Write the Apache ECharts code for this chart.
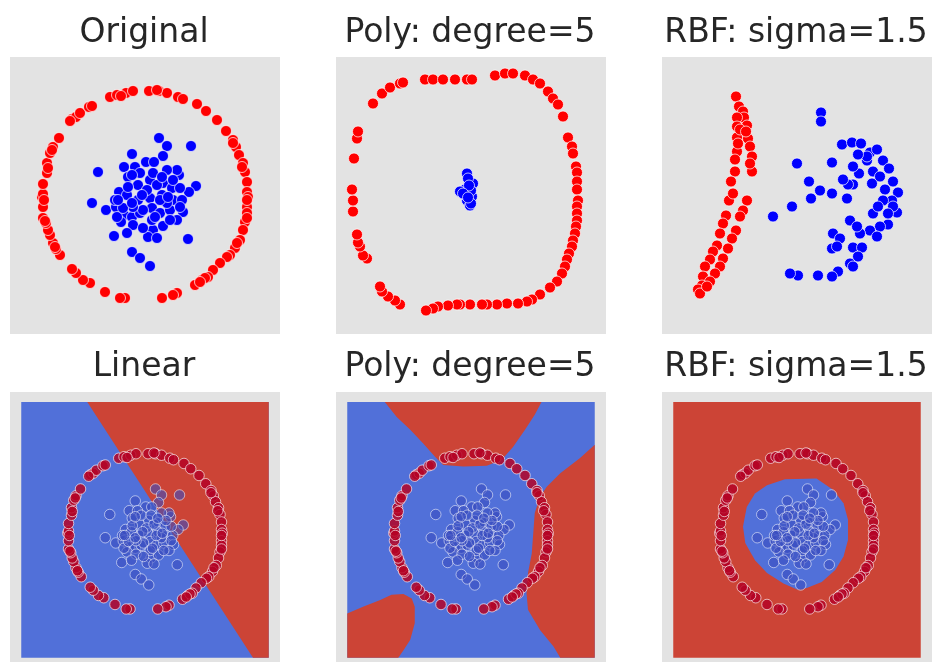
<!DOCTYPE html>
<html lang="en" style="height: 100%">
<head>
  <meta charset="utf-8">
</head>
<body style="height: 100%; margin: 0; background: #fff">
  <div id="container" style="width: 932px; height: 664px"></div>

  <script type="text/javascript" src="https://fastly.jsdelivr.net/npm/echarts@6.0.0/dist/echarts.min.js"></script>
  <script type="text/javascript">
    // panel titles
    var titles = ['Original', 'Poly: degree=5', 'RBF: sigma=1.5', 'Linear', 'Poly: degree=5', 'RBF: sigma=1.5'];

    // original data: outer ring (class 1) and inner blob (class 0)
    var originalRed = [
      [-0.35, 0.97], [-0.28, 0.99], [-0.19, 1.01], [-0.12, 1.03], [0.04, 1.03], [0.14, 1.03], [0.22, 1.01],
      [0.33, 0.97], [0.52, 0.90], [0.61, 0.83], [0.72, 0.74], [0.81, 0.63], [0.88, 0.54], [0.91, 0.47],
      [0.94, 0.39], [0.98, 0.31], [1.00, 0.22], [1.02, 0.12], [1.02, 0.02], [1.03, -0.03], [1.02, -0.13],
      [1.02, -0.19], [1.00, -0.28], [0.98, -0.36], [0.95, -0.46], [0.90, -0.54], [0.85, -0.61], [0.82, -0.63],
      [0.75, -0.69], [0.68, -0.76], [0.63, -0.83], [0.57, -0.86], [0.50, -0.91], [0.32, -0.99], [0.28, -1.01],
      [0.17, -1.04], [-0.20, -1.04], [-0.25, -1.04], [-0.40, -0.98], [-0.55, -0.89], [-0.62, -0.86],
      [-0.69, -0.79], [-0.73, -0.75], [-0.85, -0.61], [-0.89, -0.55], [-0.92, -0.49], [-0.95, -0.41],
      [-0.97, -0.36], [-0.99, -0.29], [-1.02, -0.24], [-1.02, -0.13], [-1.03, -0.03], [-1.02, 0.00],
      [-1.02, 0.10], [-0.98, 0.21], [-0.98, 0.31], [-0.95, 0.41], [-0.92, 0.47], [-0.86, 0.56], [-0.73, 0.75],
      [-0.69, 0.77], [-0.65, 0.81], [-0.56, 0.87], [-0.53, 0.88], [-0.24, 0.98], [0.12, 1.04], [0.38, 0.95],
      [0.88, 0.51], [0.97, 0.27], [1.02, -0.06], [1.02, -0.24], [0.92, -0.49], [0.60, -0.84], [0.55, -0.88],
      [-0.90, -0.53], [-1.00, -0.27], [-1.01, -0.06], [-0.97, 0.26], [-0.93, 0.44], [-0.75, 0.73]
    ];
    var originalBlue = [
      [0.14, 0.56], [0.22, 0.48], [0.46, 0.48], [0.18, 0.38], [-0.13, 0.40], [0.01, 0.32], [0.09, 0.32],
      [-0.47, 0.22], [-0.21, 0.27], [-0.10, 0.27], [0.34, 0.19], [0.32, 0.24], [-0.17, 0.17], [-0.07, 0.09],
      [0.05, 0.14], [0.18, 0.11], [0.27, 0.06], [0.51, 0.08], [0.44, 0.02], [-0.26, 0.02], [-0.18, -0.01],
      [-0.07, -0.06], [0.05, -0.04], [0.17, -0.01], [0.28, -0.06], [0.37, -0.06], [-0.53, -0.09], [-0.39, -0.16],
      [-0.29, -0.13], [-0.21, -0.21], [-0.13, -0.23], [-0.05, -0.19], [0.07, -0.14], [0.15, -0.19], [0.25, -0.16],
      [0.38, -0.18], [0.32, -0.26], [-0.24, -0.28], [-0.12, -0.31], [0.08, -0.36], [0.18, -0.32], [0.03, -0.43],
      [0.12, -0.44], [-0.31, -0.42], [-0.18, -0.39], [0.43, -0.45], [-0.13, -0.58], [-0.05, -0.64], [0.05, -0.72],
      [-0.02, -0.16], [0.02, 0.04], [-0.12, -0.13], [0.22, -0.09], [0.12, 0.09], [-0.28, -0.23], [0.25, -0.26],
      [-0.17, 0.07], [0.35, 0.06], [-0.05, 0.21], [0.07, -0.26], [-0.02, -0.34], [-0.22, -0.14], [0.22, 0.24],
      [-0.30, -0.06], [0.28, 0.14], [0.08, 0.21], [0.15, -0.06], [0.23, -0.03], [-0.13, -0.09], [-0.03, -0.01],
      [0.10, -0.23], [0.35, -0.13], [-0.27, -0.06], [-0.13, 0.19], [0.17, 0.17]
    ];

    // kernel PCA projection, polynomial kernel
    var polyRed = [
      [-0.98, 0.92], [-0.89, 1.02], [-0.81, 1.08], [-0.71, 1.12], [-0.68, 1.13], [-0.46, 1.16], [-0.38, 1.16],
      [-0.28, 1.16], [-0.16, 1.16], [-0.04, 1.16], [0.01, 1.16], [0.24, 1.20], [0.34, 1.22], [0.42, 1.22],
      [0.54, 1.20], [0.62, 1.16], [0.69, 1.12], [0.77, 1.04], [0.82, 0.97], [0.87, 0.91], [0.92, 0.79],
      [0.97, 0.58], [1.01, 0.49], [1.02, 0.42], [1.05, 0.29], [1.06, 0.23], [1.06, 0.14], [1.06, 0.06],
      [1.07, -0.05], [1.06, -0.11], [1.06, -0.18], [1.06, -0.25], [1.05, -0.31], [1.04, -0.38], [1.02, -0.45],
      [1.01, -0.51], [0.98, -0.58], [0.96, -0.64], [0.94, -0.71], [0.91, -0.78], [0.86, -0.86], [0.79, -0.92],
      [0.69, -0.99], [0.61, -1.04], [0.56, -1.06], [0.47, -1.08], [0.36, -1.08], [0.26, -1.09], [0.16, -1.09],
      [0.11, -1.09], [-0.01, -1.09], [-0.11, -1.09], [-0.14, -1.09], [-0.23, -1.10], [-0.33, -1.11],
      [-0.38, -1.13], [-0.45, -1.15], [-0.71, -1.09], [-0.76, -1.05], [-0.83, -1.01], [-0.89, -0.96],
      [-0.91, -0.91], [-1.04, -0.63], [-1.08, -0.60], [-1.11, -0.51], [-1.13, -0.47], [-1.14, -0.39],
      [-1.18, -0.16], [-1.18, -0.05], [-1.19, 0.06], [-1.17, 0.37], [-1.14, 0.57], [-1.13, 0.64]
    ];
    var polyBlue = [
      [-0.04, 0.22], [0.02, 0.12], [-0.06, 0.06], [-0.11, 0.04], [-0.04, -0.05], [-0.01, -0.10], [-0.03, 0.17],
      [0.01, -0.01], [-0.05, 0.00], [0.00, 0.05], [-0.02, 0.10], [0.00, -0.08], [-0.08, 0.02], [-0.03, -0.02]
    ];

    // kernel PCA projection, RBF kernel
    var rbfRed = [
      [-0.61, 0.99], [-0.58, 0.89], [-0.54, 0.84], [-0.53, 0.78], [-0.50, 0.70], [-0.60, 0.78], [-0.60, 0.69],
      [-0.60, 0.58], [-0.49, 0.57], [-0.47, 0.49], [-0.45, 0.39], [-0.45, 0.24], [-0.60, 0.44], [-0.62, 0.36],
      [-0.62, 0.24], [-0.66, 0.14], [-0.68, -0.05], [-0.50, -0.05], [-0.54, -0.15], [-0.57, -0.21],
      [-0.71, -0.20], [-0.74, -0.28], [-0.77, -0.38], [-0.61, -0.35], [-0.65, -0.43], [-0.69, -0.53],
      [-0.80, -0.50], [-0.84, -0.56], [-0.87, -0.64], [-0.74, -0.63], [-0.77, -0.71], [-0.92, -0.71],
      [-0.94, -0.81], [-0.82, -0.78], [-0.87, -0.86], [-0.95, -0.90], [-0.99, -0.94], [-0.97, -0.98],
      [-0.90, -0.91], [-0.57, 0.66], [-0.51, 0.64], [-0.59, 0.52], [-0.47, 0.32], [-0.64, 0.02]
    ];
    var rbfBlue = [
      [0.24, 0.83], [0.24, 0.74], [0.00, 0.32], [0.35, 0.33], [0.12, 0.14], [0.23, 0.05], [0.14, -0.03],
      [0.35, 0.02], [-0.05, -0.11], [-0.24, -0.21], [0.45, 0.51], [0.55, 0.53], [0.64, 0.52], [0.73, 0.43],
      [0.80, 0.46], [0.70, 0.35], [0.86, 0.35], [0.76, 0.24], [0.92, 0.27], [0.62, 0.22], [0.56, 0.11],
      [0.75, 0.12], [0.88, 0.06], [1.01, 0.03], [0.96, 0.14], [0.83, 0.19], [0.95, -0.05], [1.00, -0.17],
      [0.91, -0.29], [0.83, -0.31], [0.73, -0.35], [0.53, -0.25], [0.63, -0.38], [0.36, -0.38], [0.43, -0.43],
      [0.35, -0.53], [0.56, -0.52], [0.65, -0.52], [0.61, -0.61], [0.53, -0.68], [0.56, -0.71], [0.41, -0.76],
      [0.35, -0.81], [0.21, -0.80], [0.01, -0.80], [-0.07, -0.78], [0.51, 0.11], [0.50, -0.03], [0.86, -0.05],
      [0.96, -0.11], [0.80, -0.41], [0.70, 0.39], [0.46, 0.16], [0.56, 0.29], [0.76, -0.18], [0.81, -0.11],
      [0.91, -0.18], [0.61, 0.41], [0.40, -0.51], [0.60, -0.31]
    ];

    // decision regions (outlines, in original data units)
    var meshBox = [[-1.65, -1.69], [1.65, -1.69], [1.65, 1.72], [-1.65, 1.72]];
    var linearRedRegion = [[-0.77, 1.72], [1.65, 1.72], [1.65, -1.69], [1.44, -1.69]];
    var polyRedTop = [
      [-1.15, 1.72], [-0.99, 1.52], [-0.81, 1.35], [-0.64, 1.17], [-0.48, 0.99], [-0.37, 0.88], [-0.10, 0.86],
      [0.21, 0.87], [0.41, 0.95], [0.56, 1.12], [0.72, 1.35], [0.85, 1.55], [0.94, 1.72]
    ];
    var polyRedRight = [
      [1.65, 1.15], [1.45, 0.97], [1.19, 0.77], [1.01, 0.59], [0.92, 0.46], [0.85, 0.24], [0.83, -0.03],
      [0.81, -0.30], [0.76, -0.56], [0.74, -0.83], [0.76, -1.05], [0.92, -1.32], [1.10, -1.54], [1.19, -1.69],
      [1.65, -1.69]
    ];
    var polyRedLeft = [
      [-1.65, -1.10], [-1.44, -1.01], [-1.21, -0.92], [-1.06, -0.85], [-0.90, -0.84], [-0.79, -0.90],
      [-0.75, -1.01], [-0.75, -1.23], [-0.81, -1.45], [-0.90, -1.59], [-0.97, -1.69], [-1.65, -1.69]
    ];
    var rbfBlueRegion = [
      [-0.16, 0.69], [0.26, 0.70], [0.48, 0.55], [0.62, 0.37], [0.68, 0.15], [0.68, -0.12], [0.62, -0.34],
      [0.51, -0.52], [0.33, -0.68], [0.13, -0.76], [0.00, -0.78], [-0.18, -0.70], [-0.40, -0.56], [-0.56, -0.39],
      [-0.69, -0.16], [-0.72, 0.06], [-0.67, 0.32], [-0.56, 0.50], [-0.40, 0.61]
    ];

    var RED = '#ff0000', BLUE = '#0000ff';
    var REGION_RED = '#cc4436', REGION_BLUE = '#5170d9';
    var PANEL_BG = '#e3e3e3';

    var dom = document.getElementById('container');
    var myChart = echarts.init(dom, null, { renderer: 'canvas' });

    var lefts = [10, 336, 662];
    var grids = [], xAxes = [], yAxes = [], series = [], titleList = [];

    for (var i = 0; i < 6; i++) {
      var gridTop = i < 3 ? 57 : 392;
      var gridHeight = i < 3 ? 277 : 270;
      grids.push({
        left: lefts[i % 3], top: gridTop, width: 270, height: gridHeight,
        show: true, backgroundColor: PANEL_BG, borderWidth: 0
      });
      if (i < 3) {
        xAxes.push({ gridIndex: i, type: 'value', min: -1.35, max: 1.35, show: false });
        yAxes.push(i === 0
          ? { gridIndex: i, type: 'value', min: -1.40, max: 1.37, show: false }
          : { gridIndex: i, type: 'value', min: -1.385, max: 1.385, show: false });
      } else {
        xAxes.push({ gridIndex: i, type: 'value', min: -1.8, max: 1.8, show: false });
        yAxes.push({ gridIndex: i, type: 'value', min: -1.747, max: 1.853, show: false });
      }
      titleList.push({
        text: titles[i],
        left: lefts[i % 3] + 134,
        top: i < 3 ? 17 : 351,
        padding: 0,
        textAlign: 'center',
        textStyle: { fontFamily: 'DejaVu Sans', fontSize: 33, fontWeight: 'normal', color: '#262626' }
      });
    }

    function region(idx, pts, color) {
      return {
        type: 'custom', xAxisIndex: idx, yAxisIndex: idx, z: 1, silent: true,
        data: [[0, 0]],
        renderItem: function (params, api) {
          return {
            type: 'polygon',
            shape: { points: pts.map(function (p) { return api.coord(p); }) },
            style: { fill: color }
          };
        }
      };
    }

    function dots(idx, data, color, opts) {
      opts = opts || {};
      return {
        type: 'scatter', xAxisIndex: idx, yAxisIndex: idx, z: 2, silent: true,
        data: data,
        symbolSize: opts.size || 11,
        itemStyle: {
          color: color,
          opacity: opts.opacity || 1,
          borderColor: opts.border || 'rgba(255,255,255,0.7)',
          borderWidth: 1
        }
      };
    }

    // top row: scatter of raw data and projections
    series.push(dots(0, originalRed, RED));
    series.push(dots(0, originalBlue, BLUE));
    series.push(dots(1, polyRed, RED));
    series.push(dots(1, polyBlue, BLUE));
    series.push(dots(2, rbfRed, RED));
    series.push(dots(2, rbfBlue, BLUE));

    // bottom row: decision regions
    series.push(region(3, meshBox, REGION_BLUE));
    series.push(region(3, linearRedRegion, REGION_RED));
    series.push(region(4, meshBox, REGION_BLUE));
    series.push(region(4, polyRedTop, REGION_RED));
    series.push(region(4, polyRedRight, REGION_RED));
    series.push(region(4, polyRedLeft, REGION_RED));
    series.push(region(5, meshBox, REGION_RED));
    series.push(region(5, rbfBlueRegion, REGION_BLUE));

    for (var k = 3; k < 6; k++) {
      series.push(dots(k, originalRed, '#b40426', { size: 10.5, opacity: 0.85, border: 'rgba(255,255,255,0.75)' }));
      series.push(dots(k, originalBlue, '#3b4cc0', { size: 10.5, opacity: 0.6, border: 'rgba(255,255,255,0.9)' }));
    }

    var option = {
      animation: false,
      title: titleList,
      grid: grids,
      xAxis: xAxes,
      yAxis: yAxes,
      series: series
    };

    myChart.setOption(option);
    window.addEventListener('resize', myChart.resize);
  </script>
</body>
</html>
